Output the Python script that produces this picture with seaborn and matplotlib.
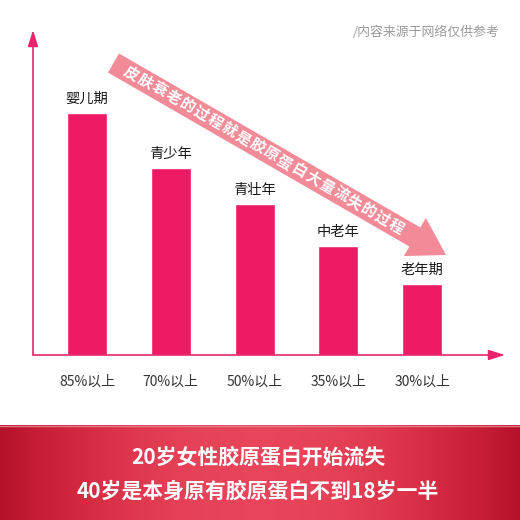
import numpy as np
import pandas as pd
import matplotlib
matplotlib.use("Agg")
import matplotlib.pyplot as plt
from matplotlib.patches import Polygon
from matplotlib.colors import LinearSegmentedColormap
import seaborn as sns

# ---- data ----
stages = ["婴儿期", "青少年", "青壮年", "中老年", "老年期"]
levels = [242, 187, 151, 109, 71]          # relative collagen level (bar heights)
tick_labels = ["85%以上", "70%以上", "50%以上", "35%以上", "30%以上"]
arrow_text = "皮肤衰老的过程就是胶原蛋白大量流失的过程"
source_text = "/内容来源于网络仅供参考"
banner_lines = ["20岁女性胶原蛋白开始流失", "40岁是本身原有胶原蛋白不到18岁一半"]

sns.set_style("white")
plt.rcParams['font.family'] = ['Noto Sans CJK SC', 'DejaVu Sans']

BAR = "#ee1a65"
AX = "#e8246c"
W = H = 520
fig = plt.figure(figsize=(5.2, 5.2), dpi=100)
fig.patch.set_facecolor("white")

# main axes in pixel layout
x0, x1, ytop, ybase = 33, 505, 30, 355
ax = fig.add_axes([x0 / W, (H - ybase) / H, (x1 - x0) / W, (ybase - ytop) / H])
df = pd.DataFrame({"stage": stages, "level": levels})
sns.barplot(data=df, x="stage", y="level", color=BAR, saturation=1,
            width=0.478, ax=ax)
ax.set_xlim(-0.645, 4.99)
ax.set_ylim(0, 325)
ax.set_xlabel("")
ax.set_ylabel("")
ax.set_yticks([])
ax.set_xticks(range(len(stages)))
ax.set_xticklabels(tick_labels, fontsize=10, color="#333333")
ax.tick_params(axis="x", length=0, pad=14)
for s in ax.spines.values():
    s.set_visible(False)
ax.patch.set_alpha(0)
ax.bar_label(ax.containers[0], labels=stages, padding=5, fontsize=10.3,
             color="#1a1a1a")

arr = dict(arrowstyle="-|>,head_length=0.7,head_width=0.22", color=AX,
           lw=1.2, shrinkA=0, shrinkB=0, mutation_scale=14)
ax.annotate("", xy=(0, 1), xytext=(0, 0), xycoords="axes fraction",
            textcoords="axes fraction", arrowprops=arr)
ax.annotate("", xy=(1, 0), xytext=(0, 0), xycoords="axes fraction",
            textcoords="axes fraction", arrowprops=arr)

# overlay in pixel coordinates
ov = fig.add_axes([0, 0, 1, 1])
ov.set_xlim(0, W)
ov.set_ylim(H, 0)
ov.axis("off")
ov.patch.set_alpha(0)

# diagonal arrow band
ang = np.deg2rad(30)
d = np.array([np.cos(ang), np.sin(ang)])
n = np.array([np.sin(ang), -np.cos(ang)])
tail = np.array([113.5, 63.0])
blen = 348
hw = 11
base = tail + d * blen
tip = base + d * 36
head_hw = 22
poly = [tail + n * hw, base + n * hw, base + n * head_hw, tip,
        base - n * head_hw, base - n * hw, tail - n * hw]
ov.add_patch(Polygon(poly, closed=True, facecolor="#f28b97", edgecolor="none"))
start = tail + d * 21
step = 16.1
for i, ch in enumerate(arrow_text):
    p = start + d * step * i
    ov.text(p[0], p[1], ch, rotation=-30, rotation_mode="anchor",
            ha="center", va="center", color="white", fontsize=10.8,
            fontweight="bold")

# source note
ov.text(500, 32, source_text, ha="right", va="center", color="#9a9a9a",
        fontsize=9.3)

# banner with gradient
xs = np.linspace(-1, 1, 400)
grad = np.tile(1 - xs ** 2, (2, 1))
cmap = LinearSegmentedColormap.from_list("b", ["#b5122a", "#d3283f", "#e8455b"])
ov.imshow(grad, extent=[0, W, H, 425], cmap=cmap, aspect="auto", zorder=0)
ov.plot([0, W], [425.5, 425.5], color="#e57a86", lw=1)
ov.set_xlim(0, W)
ov.set_ylim(H, 0)
ov.text(258, 457, banner_lines[0], ha="center", va="center", color="white",
        fontsize=15, fontweight="bold")
ov.text(258, 491, banner_lines[1], ha="center", va="center", color="white",
        fontsize=15, fontweight="bold")

fig.savefig("out.png", dpi=100, facecolor="white")
